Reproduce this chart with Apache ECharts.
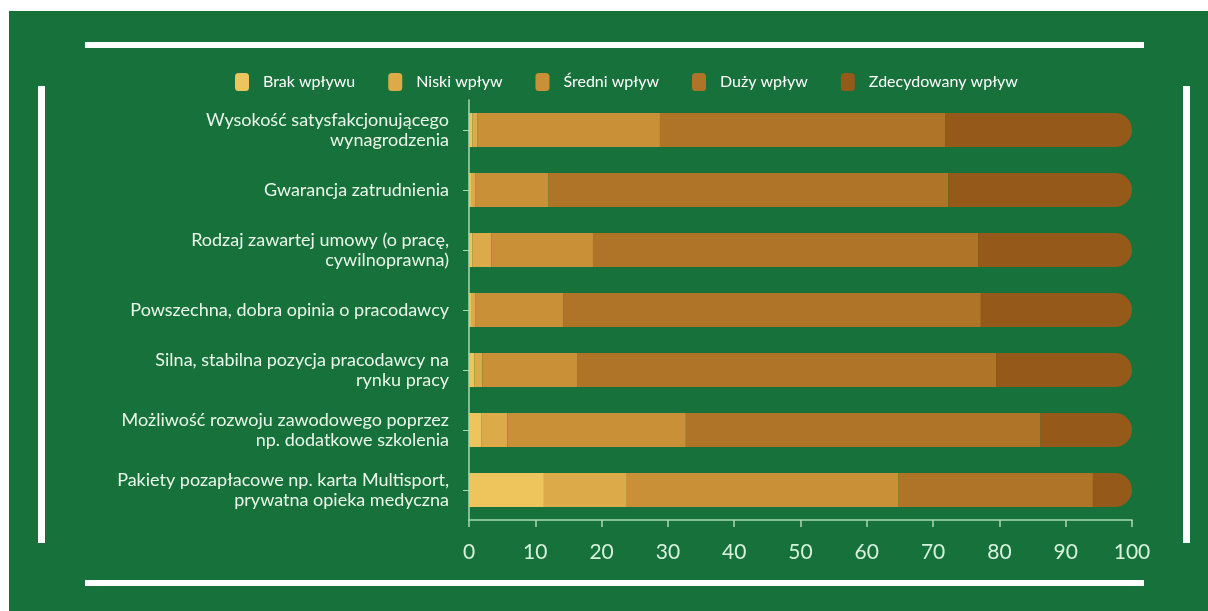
<!DOCTYPE html>
<html>
<head>
<meta charset="utf-8">
<script src="https://cdn.jsdelivr.net/npm/echarts@6/dist/echarts.min.js"></script>
<style>
  html, body { margin: 0; padding: 0; background: #fff; }
  #main { width: 1208px; height: 611px; }
</style>
</head>
<body>
<div id="main"></div>
<script>
const categories = [
    'Wysokość satysfakcjonującego\nwynagrodzenia',
    'Gwarancja zatrudnienia',
    'Rodzaj zawartej umowy (o pracę,\ncywilnoprawna)',
    'Powszechna, dobra opinia o pracodawcy',
    'Silna, stabilna pozycja pracodawcy na\nrynku pracy',
    'Możliwość rozwoju zawodowego poprzez\nnp. dodatkowe szkolenia',
    'Pakiety pozapłacowe np. karta Multisport,\nprywatna opieka medyczna'
];
const seriesNames = ['Brak wpływu', 'Niski wpływ', 'Średni wpływ', 'Duży wpływ', 'Zdecydowany wpływ'];
const brak = [0.5, 0.3, 0.5, 0.3, 0.8, 1.9, 11.3];
const niski = [0.8, 0.7, 2.9, 0.7, 1.2, 3.9, 12.5];
const sredni = [27.5, 11.0, 15.3, 13.2, 14.3, 26.9, 41.0];
const duzy = [43.0, 60.3, 58.1, 63.0, 63.2, 53.5, 29.3];
const zdecydowany = [28.2, 27.7, 23.2, 22.8, 20.5, 13.8, 5.9];
const colors = ['#eec55c', '#dcaa48', '#c99038', '#b07428', '#95591a'];

const myChart = echarts.init(document.getElementById('main'));

// white frame lines around the chart
const white = { fill: '#ffffff' };
const option = {
    backgroundColor: '#17713b',
    textStyle: { fontFamily: 'Lato' },
    graphic: [
        { type: 'rect', shape: { x: 0, y: 0, width: 1208, height: 11 }, style: white, silent: true },
        { type: 'rect', shape: { x: 0, y: 0, width: 9, height: 611 }, style: white, silent: true },
        { type: 'rect', shape: { x: 85, y: 42, width: 1059, height: 6 }, style: white, silent: true },
        { type: 'rect', shape: { x: 85, y: 580, width: 1059, height: 6 }, style: white, silent: true },
        { type: 'rect', shape: { x: 38, y: 86, width: 7, height: 457 }, style: white, silent: true },
        { type: 'rect', shape: { x: 1183, y: 86, width: 7, height: 457 }, style: white, silent: true }
    ],
    color: colors,
    legend: {
        data: seriesNames,
        left: 230,
        top: 68,
        icon: 'roundRect',
        itemWidth: 14,
        itemHeight: 18,
        itemGap: 33,
        textStyle: { color: '#ffffff', fontSize: 16, fontFamily: 'Lato', padding: [0, 0, 0, 9] }
    },
    grid: {
        left: 469,
        right: 76,
        top: 100,
        bottom: 91
    },
    xAxis: {
        type: 'value',
        min: 0,
        max: 100,
        interval: 10,
        axisLine: { show: true, lineStyle: { color: '#a9d9b4', width: 1.5 } },
        axisTick: { show: true, length: 7, lineStyle: { color: '#a9d9b4', width: 1.5 } },
        splitLine: { show: false },
        axisLabel: { color: '#d4f2dc', fontSize: 21, margin: 22, fontFamily: 'Lato' }
    },
    yAxis: {
        type: 'category',
        inverse: true,
        data: categories,
        axisLine: { show: true, lineStyle: { color: '#a9d9b4', width: 1.5 } },
        axisTick: { show: true, alignWithLabel: true, length: 6, lineStyle: { color: '#a9d9b4' } },
        axisLabel: { color: '#eaf7ea', fontSize: 18, lineHeight: 20, margin: 20, fontFamily: 'Lato' }
    },
    series: [brak, niski, sredni, duzy, zdecydowany].map((vals, i) => ({
        name: seriesNames[i],
        type: 'bar',
        stack: 'total',
        barWidth: 34,
        data: vals,
        itemStyle: i === 4 ? { borderRadius: [0, 17, 17, 0] } : {}
    }))
};
myChart.setOption(option);
</script>
</body>
</html>
